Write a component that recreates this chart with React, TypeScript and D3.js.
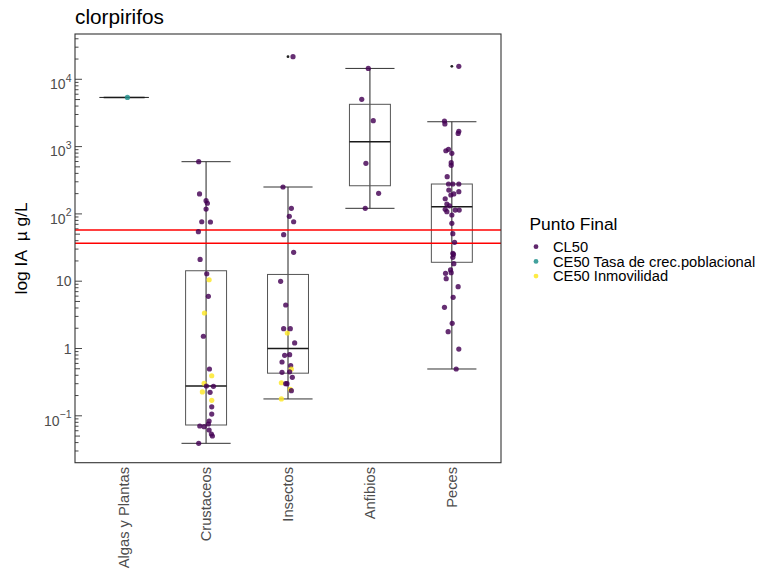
import React from "react";
import * as d3 from "d3";

// ---------- DATA ----------
const title = "clorpirifos";
const yLabel = "log IA  \u00b5 g/L";
const legendTitle = "Punto Final";
const categories = ["Algas y Plantas", "Crustaceos", "Insectos", "Anfibios", "Peces"];
const endpoints = ["CL50", "CE50 Tasa de crec.poblacional", "CE50 Inmovilidad"];
const endpointColors = ["#440154", "#21908C", "#FDE725"];

// boxplot statistics per category (µg/L)
const boxLow = [5370, 0.039, 0.178, 121, 0.496];
const boxQ1 = [5370, 0.073, 0.43, 262, 19.1];
const boxMedian = [5370, 0.277, 1.0, 1180, 128];
const boxQ3 = [5370, 14.3, 12.6, 4250, 278];
const boxHigh = [5370, 597, 251, 14500, 2340];
// outliers: [categoryIndex, value]
const outliers: [number, number][] = [
  [2, 21700],
  [4, 15600],
];

// reference lines (µg/L)
const refLines = [57.7, 36.6];

// y tick values and labels (exponent of 10)
const yTickExponents = [-1, 0, 1, 2, 3, 4];

// points: [value, endpointIndex, jitter (fraction of category step)]
const algasPoints: [number, number, number][] = [[5370, 1, 0.04]];
const crustaceosPoints: [number, number, number][] = [
  [597, 0, -0.09], [198, 0, -0.08], [157, 0, 0], [144, 0, 0.016], [118, 0, 0],
  [76.5, 0, -0.053], [75.8, 0, 0.053], [54.4, 0, -0.094], [21.1, 0, -0.073],
  [12.9, 0, 0.008], [10.5, 2, 0.037], [5.96, 0, 0.028], [3.37, 2, -0.02],
  [1.52, 0, -0.033], [0.496, 0, 0.041], [0.394, 2, 0.069], [0.304, 2, -0.024],
  [0.277, 0, 0.004], [0.274, 0, 0.09], [0.226, 2, -0.045], [0.223, 0, 0.049],
  [0.17, 2, 0.069], [0.136, 0, 0.069], [0.106, 0, 0.069], [0.0837, 0, 0.037],
  [0.0755, 0, 0.028], [0.0705, 0, -0.077], [0.0689, 0, -0.024], [0.0615, 0, 0.037],
  [0.0537, 0, 0.065], [0.0501, 0, 0.077], [0.039, 0, -0.09],
];
const insectosPoints: [number, number, number][] = [
  [21700, 0, 0.061], [251, 0, -0.061], [121, 0, 0.041], [92, 0, 0.016],
  [76.5, 0, 0.069], [49.1, 0, -0.053], [26.9, 0, 0.069], [9.96, 0, -0.09],
  [4.43, 0, -0.028], [1.7, 2, -0.008], [1.97, 0, -0.053], [1.97, 0, 0.028],
  [1.21, 0, 0.081], [0.792, 0, -0.041], [0.81, 0, 0.02], [0.63, 0, -0.073],
  [0.556, 0, 0.033], [0.496, 2, 0.041], [0.442, 0, -0.073], [0.45, 0, 0.02],
  [0.373, 0, 0.053], [0.31, 2, -0.081], [0.3, 0, -0.028], [0.3, 0, -0.012],
  [0.247, 2, 0.028], [0.236, 0, 0.041], [0.178, 2, -0.081],
];
const anfibiosPoints: [number, number, number][] = [
  [14500, 0, -0.02], [5040, 0, -0.1], [2430, 0, 0.041], [565, 0, -0.049],
  [202, 0, 0.106], [121, 0, -0.057],
];
const pecesPoints: [number, number, number][] = [
  [15600, 0, 0.085], [2400, 0, -0.09], [2170, 0, -0.085], [1690, 0, 0.085],
  [1570, 0, 0.077], [868, 0, -0.073], [912, 0, -0.041], [795, 0, 0],
  [577, 0, -0.008], [527, 0, -0.008], [357, 0, -0.057], [278, 0, -0.041],
  [278, 0, 0.012], [278, 0, 0.085], [226, 0, -0.037], [214, 0, 0.085],
  [198, 0, 0.024], [191, 0, -0.012], [168, 0, -0.081], [140, 0, -0.061],
  [132, 0, -0.028], [117, 0, -0.081], [108, 0, -0.061], [114, 0, 0.09],
  [114, 0, 0.041], [96.3, 0, 0], [72.5, 0, 0], [50.8, 0, 0.012],
  [37.8, 0, 0.033], [26, 0, 0.012], [25, 0, 0.02], [22.6, 0, 0.012],
  [18.2, 0, 0.024], [14.7, 0, -0.016], [13.1, 0, -0.077], [10.9, 0, -0.069],
  [13.4, 0, -0.008], [8.28, 0, 0.077], [5.76, 0, 0.016], [4.09, 0, -0.09],
  [2.37, 0, 0.004], [1.78, 0, -0.045], [0.98, 0, 0.085], [0.496, 0, 0.053],
];
const pointsByCategory = [algasPoints, crustaceosPoints, insectosPoints, anfibiosPoints, pecesPoints];

// ---------- LAYOUT ----------
const W = 763;
const H = 572;
const panel = { left: 75, right: 501, top: 34, bottom: 462.7 };
const font = "'Liberation Sans', Arial, Helvetica, sans-serif";
const axisTextColor = "#4d4d4d";

export default function App() {
  const x = d3
    .scalePoint<string>()
    .domain(categories)
    .range([panel.left, panel.right])
    .padding(0.6);
  const step = x.step();
  const y = d3
    .scaleLog()
    .domain([0.0201, 47100])
    .range([panel.bottom, panel.top]);

  const [dMin, dMax] = y.domain();
  const logTicks: { v: number; m: number }[] = [];
  for (let e = -3; e <= 5; e++) {
    for (let m = 1; m <= 9; m++) {
      const v = m * Math.pow(10, e);
      if (v >= dMin && v <= dMax) logTicks.push({ v, m });
    }
  }

  const boxW = step * 0.5;
  const capW = step * 0.6;

  return (
    <svg
      width={W}
      height={H}
      style={{ position: "absolute", left: 0, top: 0, background: "#fff" }}
      fontFamily={font}
    >
      <rect x={0} y={0} width={W} height={H} fill="#fff" />
      {/* title */}
      <text x={panel.left} y={24} fontSize={20.8} fill="#000">
        {title}
      </text>

      {/* log ticks */}
      {logTicks.map((t, i) => {
        const len = t.m === 1 ? 7 : t.m === 5 ? 5 : 3.5;
        return (
          <line
            key={"lt" + i}
            x1={panel.left}
            x2={panel.left + len}
            y1={y(t.v)}
            y2={y(t.v)}
            stroke="#333"
            strokeWidth={0.9}
          />
        );
      })}

      {/* y tick labels */}
      {yTickExponents.map((e) => {
        const ty = y(Math.pow(10, e));
        if (e === 0 || e === 1) {
          return (
            <text
              key={"yl" + e}
              x={71.5}
              y={ty + 5.2}
              fontSize={14}
              textAnchor="end"
              fill={axisTextColor}
            >
              {e === 0 ? "1" : "10"}
            </text>
          );
        }
        return (
          <text
            key={"yl" + e}
            x={71.5}
            y={ty + 9.8}
            fontSize={14}
            textAnchor="end"
            fill={axisTextColor}
          >
            10
            <tspan dy={-7.5} fontSize={10.5}>
              {e < 0 ? "\u2212" + Math.abs(e) : String(e)}
            </tspan>
          </text>
        );
      })}

      {/* y axis title */}
      <text
        transform={`translate(26.5, ${(panel.top + panel.bottom) / 2}) rotate(-90)`}
        textAnchor="middle"
        fontSize={17.4}
        fill="#000"
        style={{ whiteSpace: "pre" }}
      >
        {yLabel}
      </text>

      {/* x labels */}
      {categories.map((c) => (
        <text
          key={"xl" + c}
          transform={`translate(${(x(c) as number) + 5.3}, 467) rotate(-90)`}
          textAnchor="end"
          fontSize={14.7}
          fill={axisTextColor}
        >
          {c}
        </text>
      ))}

      {/* boxplots */}
      {categories.map((c, i) => {
        const cx = x(c) as number;
        return (
          <g key={"bx" + c}>
            <line x1={cx} x2={cx} y1={y(boxLow[i])} y2={y(boxHigh[i])} stroke="#222" strokeWidth={1} />
            <line x1={cx - capW / 2} x2={cx + capW / 2} y1={y(boxLow[i])} y2={y(boxLow[i])} stroke="#333" strokeWidth={1} />
            <line x1={cx - capW / 2} x2={cx + capW / 2} y1={y(boxHigh[i])} y2={y(boxHigh[i])} stroke="#333" strokeWidth={1} />
            <rect
              x={cx - boxW / 2}
              y={y(boxQ3[i])}
              width={boxW}
              height={Math.max(0, y(boxQ1[i]) - y(boxQ3[i]))}
              fill="none"
              stroke="#555"
              strokeWidth={1}
            />
            <line x1={cx - boxW / 2} x2={cx + boxW / 2} y1={y(boxMedian[i])} y2={y(boxMedian[i])} stroke="#1a1a1a" strokeWidth={1.4} />
          </g>
        );
      })}
      {outliers.map(([ci, v], i) => (
        <circle key={"ol" + i} cx={x(categories[ci]) as number} cy={y(v)} r={1.4} fill="#222" />
      ))}

      {/* reference lines */}
      {refLines.map((v, i) => (
        <line key={"rl" + i} x1={panel.left} x2={panel.right} y1={y(v)} y2={y(v)} stroke="#ff0000" strokeWidth={1.5} />
      ))}

      {/* points */}
      {pointsByCategory.map((pts, ci) =>
        pts.map(([v, ep, j], k) => (
          <circle
            key={"p" + ci + "-" + k}
            cx={(x(categories[ci]) as number) + j * step}
            cy={y(v)}
            r={2.6}
            fill={endpointColors[ep]}
            fillOpacity={0.82}
          />
        ))
      )}

      {/* panel border */}
      <rect
        x={panel.left}
        y={panel.top}
        width={panel.right - panel.left}
        height={panel.bottom - panel.top}
        fill="none"
        stroke="#333"
        strokeWidth={1.1}
      />

      {/* legend */}
      <text x={529.5} y={230} fontSize={17.4} fill="#000">
        {legendTitle}
      </text>
      {endpoints.map((e, i) => (
        <g key={"lg" + e}>
          <circle cx={536} cy={246.7 + i * 14.7} r={2.4} fill={endpointColors[i]} fillOpacity={0.85} />
          <text x={553} y={246.7 + i * 14.7 + 5.2} fontSize={14.7} fill="#000">
            {e}
          </text>
        </g>
      ))}
    </svg>
  );
}
